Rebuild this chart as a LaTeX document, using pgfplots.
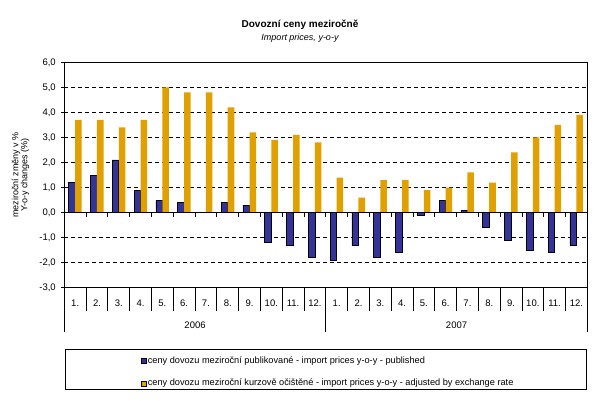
\documentclass[border=0pt]{standalone}
\usepackage{pgfplots}
\pgfplotsset{compat=1.18}
\usepackage{fontspec}
\setmainfont{Liberation Sans}
\definecolor{pubblue}{HTML}{333399}
\definecolor{adjgold}{HTML}{E0A000}
\begin{document}
\begin{tikzpicture}[x=1pt,y=1pt]
\useasboundingbox (0,0) rectangle (602,400);
\node[font=\bfseries\fontsize{10}{12}\selectfont] at (300,375) {Dovozní ceny meziročně};
\node[font=\itshape\fontsize{9}{11}\selectfont] at (300,362) {Import prices, y-o-y};
\node[rotate=90, align=center, font=\fontsize{9}{9}\selectfont] at (20.5,225) {meziroční změny v \%\\[0pt]Y-o-y changes (\%)};
\draw[line width=0.8pt] (65,11) rectangle (586,51);
\begin{axis}[
  at={(64.3pt,112.3pt)}, anchor=south west,
  scale only axis, width=523pt, height=225.4pt,
  xmin=0.5, xmax=24.5, ymin=-3, ymax=6,
  clip=false,
  axis line style={line width=0.8pt},
  ytick={-3,...,6},
  ytick pos=left,
  /pgf/number format/fixed,
  /pgf/number format/fixed zerofill,
  /pgf/number format/precision=1,
  /pgf/number format/use comma,
  /pgf/number format/assume math mode=true,
  yticklabel style={font=\fontsize{9.5}{11}\selectfont, xshift=-2pt},
  tick align=center,
  major tick length=6pt,
  tick style={line width=0.8pt, black},
  xtick={1,...,24},
  xticklabels={1.,2.,3.,4.,5.,6.,7.,8.,9.,10.,11.,12.,1.,2.,3.,4.,5.,6.,7.,8.,9.,10.,11.,12.},
  x tick style={draw=none},
  xticklabel style={font=\fontsize{9.5}{11}\selectfont, anchor=center, yshift=-12.5pt},
  ymajorgrids,
  grid style={black, line width=0.7pt, dash pattern=on 4pt off 3pt},
  legend style={draw=none, fill=none, inner sep=0pt, row sep=11pt,
    at={(axis description cs:0.1467,-0.3008)}, anchor=north west,
    font=\fontsize{9.2}{10}\selectfont,
    nodes={inner sep=1pt, text height=7pt, text depth=2pt}},
  legend cell align=left,
  legend image code/.code={\draw[#1,/tikz/.cd] (0pt,-2.5pt) rectangle (5pt,2.5pt);},
]
\addplot[ybar, bar width=0.3, bar shift=-0.15, fill=pubblue, draw=black, line width=0.6pt]
coordinates {(1,1.2) (2,1.5) (3,2.1) (4,0.9) (5,0.5) (6,0.4) (7,0.0) (8,0.4) (9,0.3) (10,-1.2) (11,-1.3) (12,-1.8)
(13,-1.9) (14,-1.3) (15,-1.8) (16,-1.6) (17,-0.1) (18,0.5) (19,0.1) (20,-0.6) (21,-1.1) (22,-1.5) (23,-1.6) (24,-1.3)};
\addlegendentry{ceny dovozu meziroční publikované - import prices y-o-y - published}
\addplot[ybar, bar width=0.3, bar shift=0.15, fill=adjgold, draw=none]
coordinates {(1,3.7) (2,3.7) (3,3.4) (4,3.7) (5,5.0) (6,4.8) (7,4.8) (8,4.2) (9,3.2) (10,2.9) (11,3.1) (12,2.8)
(13,1.4) (14,0.6) (15,1.3) (16,1.3) (17,0.9) (18,1.0) (19,1.6) (20,1.2) (21,2.4) (22,3.0) (23,3.5) (24,3.9)};
\addlegendentry{ceny dovozu meziroční kurzově očištěné - import prices y-o-y - adjusted by exchange rate}
\draw[black, line width=0.8pt] (axis cs:0.5,0) -- (axis cs:24.5,0);
\pgfplotsinvokeforeach{0.5,1.5,...,24.5}{
  \draw[black, line width=0.8pt] (axis cs:#1,0) -- (axis cs:#1,-0.16);
  \draw[black, line width=0.8pt] (axis cs:#1,-3) -- (axis cs:#1,-3.92);
}
\draw[black, line width=0.8pt] (axis cs:0.5,-3) -- (axis cs:0.5,-4.76);
\draw[black, line width=0.8pt] (axis cs:12.5,-3) -- (axis cs:12.5,-4.76);
\draw[black, line width=0.8pt] (axis cs:24.5,-3) -- (axis cs:24.5,-4.76);
\node[font=\fontsize{9.5}{11}\selectfont] at (axis cs:6.5,-4.5) {2006};
\node[font=\fontsize{9.5}{11}\selectfont] at (axis cs:18.5,-4.5) {2007};
\end{axis}
\end{tikzpicture}
\end{document}
